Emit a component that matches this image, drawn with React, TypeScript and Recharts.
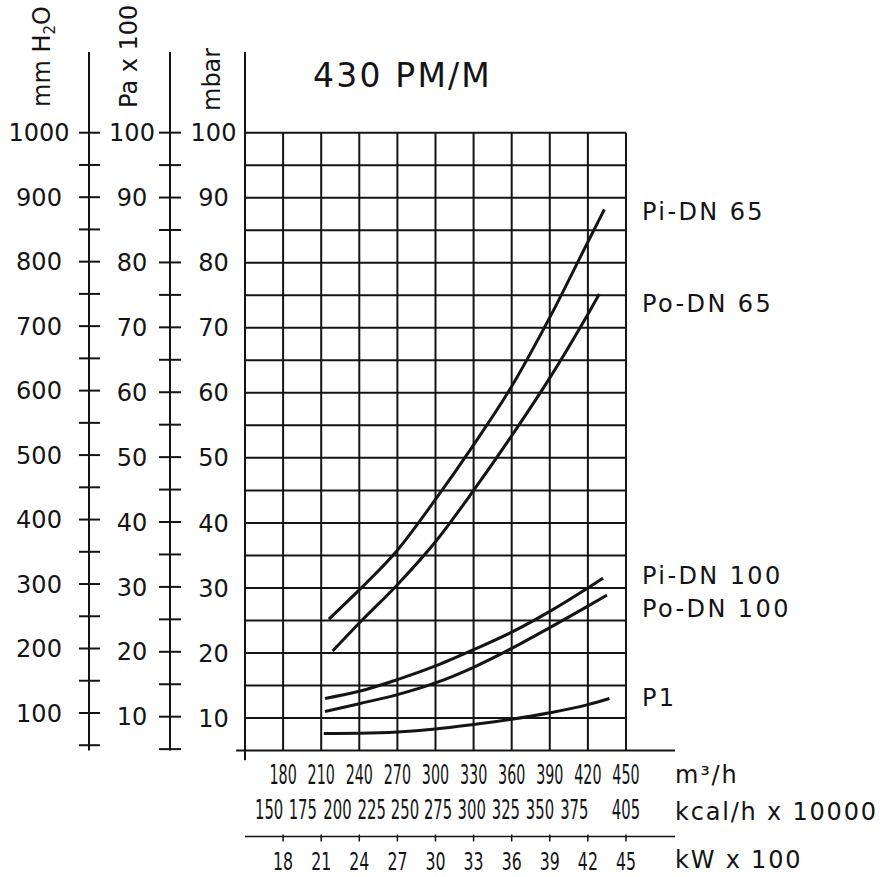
import React from 'react';
import { ComposedChart, Line, XAxis, YAxis, ReferenceLine, ReferenceDot } from 'recharts';

const FONT = "'DejaVu Sans', 'Noto Sans', sans-serif";
const INK = '#141414';

// ---- axis data ----
const flowTicks = [180, 210, 240, 270, 300, 330, 360, 390, 420, 450]; // m3/h
const kcalLabels = ['150', '175', '200', '225', '250', '275', '300', '325', '350', '375', '405'];
const kcalAtFlow = [169, 195.5, 222.8, 249.8, 276, 302, 328.5, 355.4, 382.3, 409.3, 450];
const kwTicks = [18, 21, 24, 27, 30, 33, 36, 39, 42, 45];
const mbarTicks = [10, 20, 30, 40, 50, 60, 70, 80, 90, 100];
const paTicks = [5, 10, 15, 20, 25, 30, 35, 40, 45, 50, 55, 60, 65, 70, 75, 80, 85, 90, 95, 100];
const mmTicks = [50, 100, 150, 200, 250, 300, 350, 400, 450, 500, 550, 600, 650, 700, 750, 800, 850, 900, 950, 1000];
const gridFlow = [150, 180, 210, 240, 270, 300, 330, 360, 390, 420, 450];
const gridMbar = [10, 15, 20, 25, 30, 35, 40, 45, 50, 55, 60, 65, 70, 75, 80, 85, 90, 95, 100];

// ---- series (x = m3/h, y = mbar) ----
const piDn65 = [
  { x: 216, y: 25.2 }, { x: 240, y: 29.7 }, { x: 270, y: 35.8 }, { x: 300, y: 43.6 },
  { x: 330, y: 52 }, { x: 360, y: 61 }, { x: 390, y: 71.6 }, { x: 420, y: 83.2 }, { x: 433, y: 88.2 },
];
const poDn65 = [
  { x: 219, y: 20.3 }, { x: 240, y: 24.6 }, { x: 270, y: 30.5 }, { x: 300, y: 37.1 },
  { x: 330, y: 45 }, { x: 360, y: 53.4 }, { x: 390, y: 62.3 }, { x: 420, y: 72.1 }, { x: 429, y: 75.2 },
];
const piDn100 = [
  { x: 213, y: 13 }, { x: 240, y: 14.1 }, { x: 270, y: 15.9 }, { x: 300, y: 18 },
  { x: 330, y: 20.5 }, { x: 360, y: 23.2 }, { x: 390, y: 26.4 }, { x: 420, y: 30 }, { x: 432, y: 31.5 },
];
const poDn100 = [
  { x: 213, y: 11 }, { x: 240, y: 12.2 }, { x: 270, y: 13.6 }, { x: 300, y: 15.4 },
  { x: 330, y: 17.8 }, { x: 360, y: 20.7 }, { x: 390, y: 23.9 }, { x: 420, y: 27.2 }, { x: 435, y: 28.9 },
];
const p1 = [
  { x: 212, y: 7.6 }, { x: 240, y: 7.65 }, { x: 270, y: 7.85 }, { x: 300, y: 8.3 },
  { x: 330, y: 9 }, { x: 360, y: 9.8 }, { x: 390, y: 10.8 }, { x: 420, y: 12.05 }, { x: 437, y: 13 },
];
const seriesNames = ['Pi-DN 65', 'Po-DN 65', 'Pi-DN 100', 'Po-DN 100', 'P1'];
const seriesData = [piDn65, poDn65, piDn100, poDn100, p1];
const labelMbar = [87.85, 73.8, 32.0, 26.8, 13.15];
const labelFlow = 462.6;

// anchors that let the secondary bottom scales register their ticks
const kcalAnchor = kcalAtFlow.map((x) => ({ x, y: 5 }));
const kwAnchor = kwTicks.map((x) => ({ x, y: 5 }));

const txt = { fontFamily: FONT, fill: INK } as const;

const MmTick = (props: any) => {
  const { x, y, payload } = props;
  const v = payload.value;
  return (
    <g>
      <line x1={x - 10} x2={x + 11} y1={y} y2={y} stroke={INK} strokeWidth={2} />
      {v % 100 === 0 && (
        <text x={x - 50} y={y} dy="0.36em" textAnchor="middle" fontSize={24} {...txt}>{v}</text>
      )}
    </g>
  );
};
const PaTick = (props: any) => {
  const { x, y, payload } = props;
  const v = payload.value;
  return (
    <g>
      <line x1={x - 11} x2={x + 11} y1={y} y2={y} stroke={INK} strokeWidth={2} />
      {v % 10 === 0 && (
        <text x={x - 38} y={y} dy="0.36em" textAnchor="middle" fontSize={24} {...txt}>{v}</text>
      )}
    </g>
  );
};
const MbarTick = (props: any) => {
  const { x, y, payload } = props;
  return (
    <text x={x - 31.5} y={y} dy="0.36em" textAnchor="middle" fontSize={24} {...txt}>{payload.value}</text>
  );
};
const Condensed = ({ x, y, sx, size, children }: any) => (
  <text transform={`translate(${x},${y}) scale(${sx},1)`} x={0} y={0} dy="0.36em" textAnchor="middle"
    fontSize={size} {...txt}>{children}</text>
);
const FlowTick = (props: any) => {
  const { x, y, payload } = props;
  return <Condensed x={x} y={y + 24.5} sx={0.55} size={26}>{payload.value}</Condensed>;
};
const KcalTick = (props: any) => {
  const { x, y, payload } = props;
  const i = kcalAtFlow.indexOf(payload.value);
  return <Condensed x={x} y={y + 12.5} sx={0.57} size={26}>{kcalLabels[i]}</Condensed>;
};
const KwTick = (props: any) => {
  const { x, y, payload } = props;
  return (
    <g>
      <line x1={x} x2={x} y1={y - 2} y2={y + 5} stroke={INK} strokeWidth={1.5} />
      <Condensed x={x} y={y + 24.5} sx={0.63} size={25}>{payload.value}</Condensed>
    </g>
  );
};

const unitLabel = (text: React.ReactNode, dy: number) => (p: any) => {
  const vb = p.viewBox;
  return (
    <text x={vb.x + vb.width} y={vb.y + dy} fontSize={24} letterSpacing={1.8} {...txt}>{text}</text>
  );
};
const axisTitle = (text: React.ReactNode, dx: number, startY: number) => (p: any) => {
  const vb = p.viewBox;
  return (
    <text transform={`translate(${vb.x + dx},${startY}) rotate(-90)`} x={0} y={0} textAnchor="start"
      fontSize={24} {...txt}>{text}</text>
  );
};

const curveLabel = (name: string) => (p: any) => {
  const vb = p.viewBox;
  return (
    <text x={vb.x} y={vb.y} dy="0.36em" fontSize={24} letterSpacing={2.4} {...txt}>{name}</text>
  );
};

export default function App() {
  return (
    <div style={{ position: 'absolute', left: 0, top: 0, width: 882, height: 877, background: '#fff' }}>
      <ComposedChart width={882} height={877} margin={{ top: 52, right: 207, bottom: 0, left: 0 }}>
        <XAxis xAxisId="a_flow" dataKey="x" type="number" domain={[150, 488.6]} allowDataOverflow
          ticks={flowTicks} interval={0} tick={<FlowTick />} tickLine={false} tickSize={0} tickMargin={0}
          axisLine={{ stroke: INK, strokeWidth: 2 }} height={47}
          label={unitLabel(<>m³/h</>, 32.5)} />
        <XAxis xAxisId="b_kcal" dataKey="x" type="number" domain={[150, 488.6]} allowDataOverflow
          ticks={kcalAtFlow} interval={0} tick={<KcalTick />} tickLine={false} tickSize={0} tickMargin={0}
          axisLine={false} height={39}
          label={unitLabel('kcal/h x 10000', 22.5)} />
        <XAxis xAxisId="c_kw" dataKey="x" type="number" domain={[15, 48.86]} allowDataOverflow
          ticks={kwTicks} interval={0} tick={<KwTick />} tickLine={false} tickSize={0} tickMargin={0}
          axisLine={{ stroke: INK, strokeWidth: 1.5 }} height={40.5}
          label={unitLabel('kW x 100', 31.8)} />

        <YAxis yAxisId="a_mbar" type="number" domain={[5, 112.41]} allowDataOverflow width={75}
          ticks={mbarTicks} interval={0} tick={<MbarTick />} tickLine={false} tickSize={0} tickMargin={0}
          axisLine={{ stroke: INK, strokeWidth: 2 }}
          label={axisTitle('mbar', 50, 111)} />
        <YAxis yAxisId="b_pa" type="number" domain={[4.79, 112.43]} allowDataOverflow width={81}
          ticks={paTicks} interval={0} tick={<PaTick />} tickLine={false} tickSize={0} tickMargin={0}
          axisLine={{ stroke: INK, strokeWidth: 2 }}
          label={axisTitle('Pa x 100', 48, 108)} />
        <YAxis yAxisId="c_mm" type="number" domain={[41.8, 1125.2]} allowDataOverflow width={89}
          ticks={mmTicks} interval={0} tick={<MmTick />} tickLine={false} tickSize={0} tickMargin={0}
          axisLine={{ stroke: INK, strokeWidth: 2 }}
          label={axisTitle(<>mm H<tspan dy={5} fontSize={15}>2</tspan><tspan dy={-5}>O</tspan></>, 50, 107)} />

        {gridFlow.map((f) => (
          <ReferenceLine key={'v' + f} xAxisId="a_flow" yAxisId="a_mbar" ifOverflow="visible"
            segment={[{ x: f, y: 5 }, { x: f, y: 100 }]} stroke={INK} strokeWidth={2} />
        ))}
        {gridMbar.map((m) => (
          <ReferenceLine key={'h' + m} xAxisId="a_flow" yAxisId="a_mbar" ifOverflow="visible"
            segment={[{ x: 150, y: m }, { x: 450, y: m }]} stroke={INK} strokeWidth={2} />
        ))}
        <ReferenceLine xAxisId="a_flow" yAxisId="a_mbar" ifOverflow="visible"
          segment={[{ x: 143, y: 5 }, { x: 150, y: 5 }]} stroke={INK} strokeWidth={2} />
        <ReferenceLine xAxisId="a_flow" yAxisId="a_mbar" ifOverflow="visible"
          segment={[{ x: 150, y: 3.5 }, { x: 150, y: 5 }]} stroke={INK} strokeWidth={2} />

        <Line xAxisId="b_kcal" yAxisId="a_mbar" data={kcalAnchor} dataKey="y" stroke="none" dot={false}
          activeDot={false} legendType="none" isAnimationActive={false} />
        <Line xAxisId="c_kw" yAxisId="a_mbar" data={kwAnchor} dataKey="y" stroke="none" dot={false}
          activeDot={false} legendType="none" isAnimationActive={false} />

        {seriesData.map((d, i) => (
          <Line key={seriesNames[i]} xAxisId="a_flow" yAxisId="a_mbar" data={d} dataKey="y" name={seriesNames[i]}
            type="monotone" stroke={INK} strokeWidth={3} dot={false} activeDot={false}
            isAnimationActive={false} />
        ))}
        {seriesNames.map((n, i) => (
          <ReferenceDot key={'l' + n} xAxisId="a_flow" yAxisId="a_mbar" x={labelFlow} y={labelMbar[i]} r={0}
            fill="none" stroke="none" label={curveLabel(n)} />
        ))}

        <text x={313} y={86.7} fontSize={33} letterSpacing={2.2} {...txt}>430 PM/M</text>
      </ComposedChart>
    </div>
  );
}
